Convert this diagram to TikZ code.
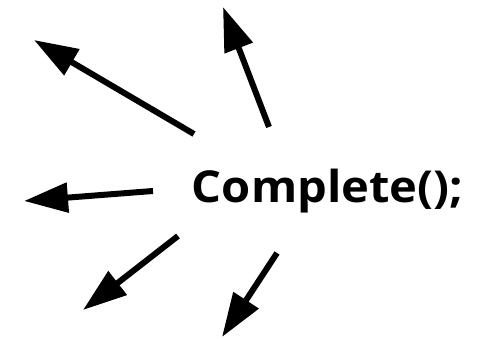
\documentclass[tikz,border=0pt]{standalone}
\usepackage{fontspec}
\setmainfont{Open Sans}
\usetikzlibrary{arrows.meta}
\begin{document}
\begin{tikzpicture}[x=1pt,y=1pt,
  ray/.style={line width=6pt,-{Triangle[length=44pt,width=29pt]}},
  label/.style={inner sep=0pt,anchor=base,font=\fontsize{44}{44}\selectfont\bfseries}]
\useasboundingbox (0,0) rectangle (482,339);
\node[label] (t) at (327.5,136) {\scalebox{1.07}[1]{Complete();}};
\coordinate (a1) at (194,205); \coordinate (b1) at (34,299);
\coordinate (a2) at (269,212); \coordinate (b2) at (223,332);
\coordinate (a3) at (153,148); \coordinate (b3) at (24,138);
\coordinate (a4) at (178,103); \coordinate (b4) at (83,29);
\coordinate (a5) at (277,86);  \coordinate (b5) at (222,2);
\draw[ray] (a1) -- (b1);
\draw[ray] (a2) -- (b2);
\draw[ray] (a3) -- (b3);
\draw[ray] (a4) -- (b4);
\draw[ray] (a5) -- (b5);
\end{tikzpicture}
\end{document}
